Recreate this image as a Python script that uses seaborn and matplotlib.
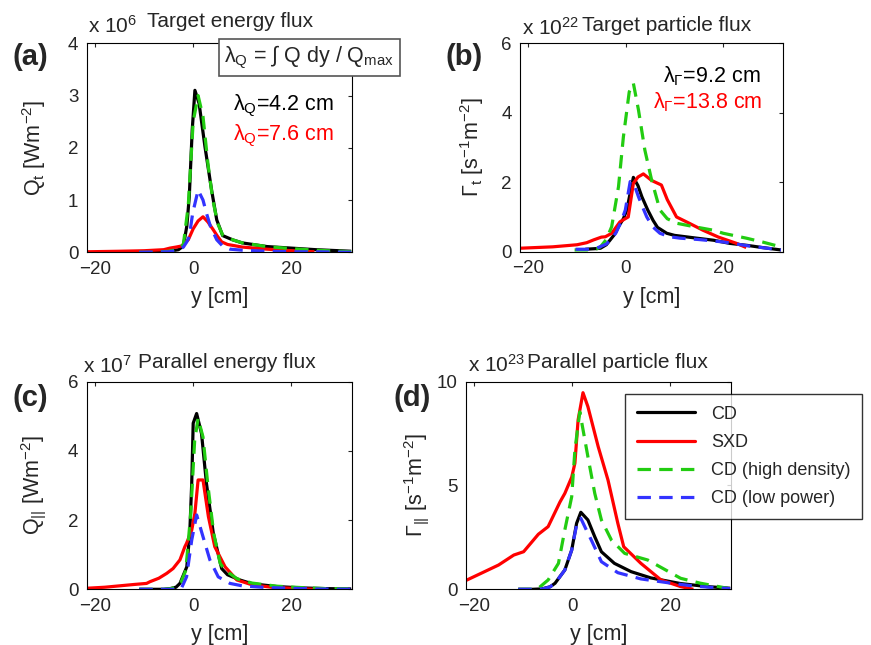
import matplotlib
matplotlib.use("Agg")
import matplotlib.pyplot as plt
import seaborn as sns
import numpy as np
from matplotlib.lines import Line2D

# ---------------- data ----------------
# Panel (a): target energy flux, units of 1e6 W m^-2
a_cd_x = [-11, -8, -5, -3, -2, -1.3, -0.8, -0.2, 0.35, 1.2, 2.4, 3.75, 4.8, 6.0, 8, 10, 15, 20, 25, 32.2]
a_cd_y = [0.0, 0.0, 0.02, 0.05, 0.12, 0.5, 1.06, 2.34, 3.1, 2.85, 2.02, 1.19, 0.62, 0.32, 0.24, 0.18, 0.11, 0.08, 0.05, 0.02]
a_sxd_x = [-21.7, -15, -10, -6, -4.75, -3.5, -2.4, -1.0, 0, 1.0, 2.0, 3.0, 4.1, 5.0, 5.8, 7, 10, 15, 20, 24.7]
a_sxd_y = [0.01, 0.02, 0.03, 0.05, 0.08, 0.1, 0.12, 0.24, 0.45, 0.6, 0.68, 0.58, 0.43, 0.3, 0.2, 0.15, 0.1, 0.06, 0.03, 0.01]
a_hd_x = [-11, -8, -5, -3, -2, -1, 0, 1.0, 2, 3, 4, 5, 6, 8, 10, 15, 20, 25, 32.2]
a_hd_y = [0.0, 0.0, 0.02, 0.06, 0.15, 0.9, 2.5, 3.0, 2.6, 1.7, 1.0, 0.55, 0.33, 0.24, 0.18, 0.11, 0.07, 0.04, 0.01]
a_lp_x = [-11, -5, -3, -2, -1.3, -0.8, -0.1, 1.0, 2.0, 2.7, 3.5, 4.8, 6, 7.5, 10, 15, 20, 25, 32.2]
a_lp_y = [0.0, 0.01, 0.04, 0.1, 0.2, 0.3, 0.75, 1.19, 1.0, 0.75, 0.5, 0.24, 0.12, 0.06, 0.04, 0.02, 0.01, 0.01, 0.0]

# Panel (b): target particle flux, units of 1e22 s^-1 m^-2
b_cd_x = [-8.3, -6, -5.2, -4, -3.2, -2.3, -1.5, -0.5, 0.2, 1.55, 2.5, 3.3, 4.5, 5.6, 6.5, 8.4, 10, 14.5, 18, 21.3, 25, 28, 31.8]
b_cd_y = [0.07, 0.09, 0.1, 0.2, 0.34, 0.5, 0.72, 0.95, 1.2, 2.14, 1.9, 1.58, 1.2, 0.9, 0.7, 0.53, 0.47, 0.39, 0.33, 0.24, 0.18, 0.12, 0.05]
b_sxd_x = [-21.7, -15, -10, -8, -6.6, -5, -4.2, -2.9, -1.2, 0.5, 1.55, 2.5, 3.6, 5.3, 7.3, 8.5, 10.4, 13, 15.8, 19, 22.7, 24.7]
b_sxd_y = [0.1, 0.14, 0.2, 0.26, 0.34, 0.42, 0.43, 0.53, 0.86, 1.0, 1.97, 2.15, 2.24, 2.05, 1.92, 1.5, 1.0, 0.82, 0.62, 0.42, 0.24, 0.12]
b_hd_x = [-10.5, -8, -6, -5.2, -4, -2.9, -1.5, -0.5, 0.7, 1.55, 2.6, 3.9, 5.3, 7.0, 8.5, 10.4, 14, 17.9, 20, 24.7, 28, 31.5]
b_hd_y = [0.05, 0.05, 0.08, 0.14, 0.35, 0.72, 1.87, 3.3, 4.6, 4.85, 4.08, 2.93, 2.06, 1.2, 0.95, 0.82, 0.72, 0.62, 0.53, 0.39, 0.28, 0.15]
b_lp_x = [-10.3, -8, -6, -4, -3, -2, -1, -0.1, 0.9, 1.8, 2.6, 3.4, 4.3, 5.5, 7, 9, 11.1, 15, 20, 25, 29, 31.8]
b_lp_y = [0.07, 0.07, 0.1, 0.22, 0.36, 0.55, 0.85, 1.2, 2.02, 1.9, 1.58, 1.3, 1.0, 0.72, 0.53, 0.43, 0.39, 0.35, 0.28, 0.17, 0.1, 0.05]

# Panel (c): parallel energy flux, units of 1e7 W m^-2
c_cd_x = [-11, -8, -6, -4.7, -3.5, -2.7, -1.3, -0.7, -0.3, 0, 0.7, 1.7, 2.7, 4.1, 5.8, 7, 9.5, 12, 17, 22, 27, 32.2]
c_cd_y = [0.0, 0.0, 0.0, 0.02, 0.06, 0.17, 0.65, 1.62, 3.06, 4.8, 5.08, 4.5, 3.06, 1.62, 0.6, 0.42, 0.27, 0.16, 0.08, 0.04, 0.02, 0.01]
c_sxd_x = [-21.7, -18, -15, -12, -9.5, -8.8, -7, -5.4, -4.1, -2.7, -1.7, -1.35, -0.3, 0.35, 1.0, 2.0, 3.1, 4.4, 6.5, 8.9, 12, 16, 20, 24.7]
c_sxd_y = [0.03, 0.06, 0.1, 0.14, 0.17, 0.22, 0.32, 0.46, 0.6, 0.85, 1.23, 1.33, 1.71, 2.2, 3.16, 3.16, 2.1, 1.23, 0.65, 0.27, 0.13, 0.06, 0.03, 0.0]
c_hd_x = [-11, -8, -6, -4.5, -3.5, -2.5, -1.5, -0.5, 0.3, 1.0, 2.0, 3.0, 4.2, 5.5, 6.5, 9, 12, 17, 22, 27, 32.2]
c_hd_y = [0.0, 0.0, 0.0, 0.02, 0.06, 0.2, 0.55, 2.2, 4.3, 4.94, 4.4, 3.0, 1.6, 0.75, 0.55, 0.3, 0.18, 0.09, 0.05, 0.02, 0.01]
c_lp_x = [-11, -5, -3.5, -2.4, -1.35, -0.3, 0.7, 2.0, 3.4, 5.1, 7.5, 10, 15, 20, 25, 32.2]
c_lp_y = [0.0, 0.0, 0.0, 0.03, 0.36, 1.42, 2.15, 1.52, 0.85, 0.36, 0.17, 0.1, 0.05, 0.03, 0.01, 0.0]

# Panel (d): parallel particle flux, units of 1e23 s^-1 m^-2
d_cd_x = [-11, -8, -6.2, -4.5, -3.5, -1.5, -0.1, 0.9, 1.76, 3.2, 4.6, 5.95, 8.6, 12, 16, 22, 27.5, 32.2]
d_cd_y = [0.0, 0.0, 0.02, 0.12, 0.29, 0.93, 1.89, 3.18, 3.71, 3.34, 2.53, 1.81, 1.25, 0.85, 0.55, 0.28, 0.13, 0.05]
d_sxd_x = [-21.7, -18.3, -15, -11.9, -9.9, -6.9, -4.9, -2.5, -1.5, -0.1, 0.55, 1.2, 2.2, 3.2, 5.3, 7.3, 9.3, 10.5, 14, 18.1, 22.1, 24.7]
d_sxd_y = [0.42, 0.8, 1.17, 1.65, 1.81, 2.65, 3.02, 4.2, 4.62, 5.4, 6.07, 8.15, 9.47, 8.8, 6.87, 5.26, 3.18, 2.05, 1.25, 0.45, 0.13, 0.0]
d_hd_x = [-11, -8, -6.9, -4.9, -2.8, -1.5, -0.1, 0.55, 1.55, 3.2, 4.6, 5.95, 8, 10.7, 15.4, 22.1, 26, 31.6]
d_hd_y = [0.0, 0.0, 0.05, 0.45, 1.25, 2.86, 4.46, 6.7, 8.55, 6.39, 4.62, 3.34, 2.37, 1.73, 1.41, 0.53, 0.3, 0.05]
d_lp_x = [-11, -8, -6, -4.5, -3.5, -1.5, -0.1, 0.9, 1.76, 3.0, 3.9, 5.95, 9.3, 14, 20, 25, 32.2]
d_lp_y = [0.0, 0.0, 0.02, 0.12, 0.29, 0.93, 1.89, 3.1, 3.42, 2.8, 2.37, 1.33, 0.8, 0.5, 0.3, 0.15, 0.03]

series_names = ["CD", "SXD", "CD (high density)", "CD (low power)"]
panel_letters = ["(a)", "(b)", "(c)", "(d)"]
panel_titles = ["Target energy flux", "Target particle flux", "Parallel energy flux", "Parallel particle flux"]
panel_exponents = ["6", "22", "7", "23"]
panel_ylabels = ["Q$_t$ [Wm$^{-2}$]", "Γ$_t$ [s$^{-1}$m$^{-2}$]",
                 "Q$_{||}$ [Wm$^{-2}$]", "Γ$_{||}$ [s$^{-1}$m$^{-2}$]"]
panel_ymax = [4, 6, 6, 10]
panel_yticks = [[0, 1, 2, 3, 4], [0, 2, 4, 6], [0, 2, 4, 6], [0, 5, 10]]
xticks = [-20, 0, 20]
lambda_a = ["λ$_Q$=4.2 cm", "λ$_Q$=7.6 cm"]
lambda_b = ["λ$_Γ$=9.2 cm", "λ$_Γ$=13.8 cm"]
lambda_def = "λ$_Q$ = ∫ Q dy / Q$_{max}$"

panels = [
    [(a_cd_x, a_cd_y), (a_sxd_x, a_sxd_y), (a_hd_x, a_hd_y), (a_lp_x, a_lp_y)],
    [(b_cd_x, b_cd_y), (b_sxd_x, b_sxd_y), (b_hd_x, b_hd_y), (b_lp_x, b_lp_y)],
    [(c_cd_x, c_cd_y), (c_sxd_x, c_sxd_y), (c_hd_x, c_hd_y), (c_lp_x, c_lp_y)],
    [(d_cd_x, d_cd_y), (d_sxd_x, d_sxd_y), (d_hd_x, d_hd_y), (d_lp_x, d_lp_y)],
]

# ---------------- style ----------------
sns.set_style("white")
plt.rcParams["font.family"] = ["Liberation Sans", "DejaVu Sans"]
plt.rcParams["mathtext.fontset"] = "custom"
plt.rcParams["mathtext.rm"] = "Liberation Sans"
plt.rcParams["mathtext.it"] = "Liberation Sans"
plt.rcParams["mathtext.bf"] = "Liberation Sans:bold"
plt.rcParams["axes.unicode_minus"] = True

colors = ["#000000", "#ff0000", "#22cc11", "#3333ff"]
dashed = [False, False, True, True]
LW = 2.3
DASH = (4.2, 2.6)

W, H = 871, 645
fig = plt.figure(figsize=(W / 100, H / 100), dpi=100)

def fx(px):
    return px / W

def fy(py):
    return 1 - py / H

# axes rectangles in pixels (left, top, right, bottom)
rects = [(86.7, 43.3, 351.7, 252.3), (520.0, 43.3, 783.3, 251.7),
         (86.7, 381.7, 351.7, 589.3), (465.7, 381.7, 730.7, 589.3)]

axes = []
for i, (l, t, r, b) in enumerate(rects):
    ax = fig.add_axes([fx(l), fy(b), (r - l) / W, (b - t) / H])
    axes.append(ax)
    for j, (xs, ys) in enumerate(panels[i]):
        sns.lineplot(x=xs, y=ys, ax=ax, color=colors[j], lw=LW, sort=False,
                     estimator=None, legend=False)
        line = ax.lines[-1]
        if dashed[j]:
            line.set_dashes(DASH)
        line.set_solid_capstyle("butt")
    ax.set_xlim(-21.7, 32.3)
    ax.set_ylim(0, panel_ymax[i])
    ax.set_xticks(xticks)
    ax.set_yticks(panel_yticks[i])
    ax.tick_params(direction="in", length=3, width=0.8, labelsize=13.5,
                   top=True, right=True, pad=6)
    for s in ax.spines.values():
        s.set_linewidth(0.8)
        s.set_color("black")
    ax.set_xlabel("y [cm]", fontsize=15.5)
    ax.xaxis.set_label_coords(0.5, -0.168)
    ax.set_ylabel(panel_ylabels[i], fontsize=15.5)
    ax.yaxis.set_label_coords(-0.145 if i in (0, 2) else -0.13, 0.5)

# panel letters
letter_pos = [(30, 57), (464, 57), (30, 398), (412, 398)]
for (px, py), lab in zip(letter_pos, panel_letters):
    fig.text(fx(px), fy(py), lab, fontsize=21, fontweight="bold",
             ha="center", va="center")

# offset exponents and titles
exp_pos = [(88, 33), (522, 35), (83, 373), (468, 372)]
title_pos = [(147, 27), (581.7, 31), (138, 368), (526.7, 368)]
for k in range(4):
    fig.text(fx(exp_pos[k][0]), fy(exp_pos[k][1]), "x 10$^{%s}$" % panel_exponents[k],
             fontsize=15, ha="left", va="baseline")
    fig.text(fx(title_pos[k][0]), fy(title_pos[k][1]), panel_titles[k],
             fontsize=15, ha="left", va="baseline")

# lambda annotations
fig.text(fx(233), fy(110), lambda_a[0], fontsize=15.5, color="black", ha="left", va="baseline")
fig.text(fx(233), fy(140), lambda_a[1], fontsize=15.5, color="red", ha="left", va="baseline")
fig.text(fx(663), fy(82), lambda_b[0], fontsize=15.5, color="black", ha="left", va="baseline")
fig.text(fx(653), fy(108), lambda_b[1], fontsize=15.5, color="red", ha="left", va="baseline")

# definition box
fig.text(fx(309.5), fy(57.5), lambda_def, fontsize=15.5, ha="center", va="center",
         zorder=10,
         bbox=dict(boxstyle="square,pad=0.25", facecolor="white", edgecolor="#555555", linewidth=1.2))

# legend
handles = []
for j in range(4):
    h = Line2D([0], [0], color=colors[j], lw=LW)
    if dashed[j]:
        h.set_dashes(DASH)
    handles.append(h)
leg = axes[3].legend(handles, series_names, loc="upper left",
                     bbox_to_anchor=(fx(625), fy(394)), bbox_transform=fig.transFigure,
                     fontsize=13, frameon=True, fancybox=False, handlelength=3.2,
                     handletextpad=0.9, borderpad=0.65, labelspacing=0.62,
                     borderaxespad=0)
leg.get_frame().set_edgecolor("black")
leg.get_frame().set_linewidth(1.0)
leg.set_zorder(20)

fig.savefig("out.png", dpi=100)
